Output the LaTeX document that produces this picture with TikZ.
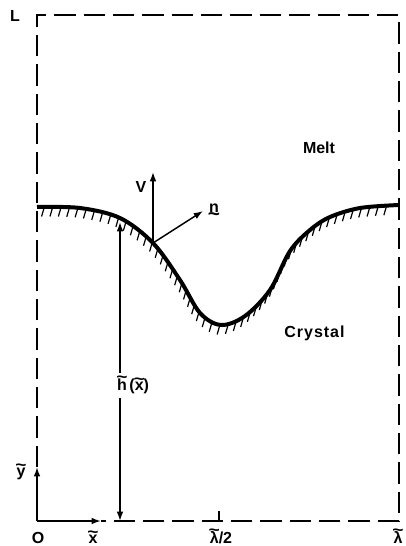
\documentclass[tikz,border=0pt]{standalone}
\usepackage{fontspec}
\setmainfont{Liberation Sans}
\usetikzlibrary{arrows.meta,decorations.markings}
\newcommand{\tl}[2][0.36em]{\leavevmode\hbox{\ooalign{#2\cr\hidewidth\raisebox{#1}{\scalebox{1.2}[1]{\textasciitilde}}\hidewidth\cr}}}
\newcommand{\ul}[1]{\leavevmode\hbox{\ooalign{#1\cr\hidewidth\raisebox{-0.5em}{\scalebox{1.3}[1.2]{\textasciitilde}}\hidewidth\cr}}}
\tikzset{
  boxline/.style={line width=1.3pt,dash pattern=on 16pt off 6pt},
  axisline/.style={line width=1.3pt,-{Latex[length=7pt,width=5pt]}},
  vecline/.style={line width=1.1pt,-{Latex[length=7pt,width=5pt]}},
  lbl/.style={font=\fontsize{12}{14}\selectfont\bfseries,inner sep=0pt},
  interface/.style={line width=3pt,line join=round,
    postaction={decorate,decoration={markings,
      mark=between positions 0.015 and 0.99 step 6.3pt with {
        \pgftransformresetnontranslations
        \draw[line width=0.9pt] (0,-1pt) -- (-1.8pt,-7.2pt);}}}},
}
\begin{document}
\begin{tikzpicture}[x=0.75pt,y=-0.75pt]
\useasboundingbox (0,0) rectangle (406,546);
\coordinate (O) at (37,521);
\coordinate (TL) at (37,15);
\coordinate (TR) at (399,15);
\coordinate (BR) at (399,521);
\coordinate (ytip) at (37,467);
\coordinate (xtip) at (101,521);
\coordinate (P) at (153,243);
\coordinate (Vtip) at (153,172);
\coordinate (ntip) at (203,211);
\coordinate (hbot) at (120,521);
\coordinate (htop) at (120,222);
\coordinate (tick) at (219,511);
\coordinate (tickb) at (219,521);
% dashed box
\draw[boxline] (ytip) -- (TL) -- (TR) -- (BR) -- (xtip);
% axes
\draw[axisline] (O) -- (ytip);
\draw[axisline] (O) -- (xtip);
\draw[line width=1.3pt] (tickb) -- (tick);
% interface
\draw[interface] plot[smooth,tension=0.55] coordinates {(37,207) (80,208) (120,218) (153,243) (180,280) (200,313) (221,325) (245,316) (270,290) (290,251) (310,230) (330,217) (360,208) (399,205)};
% vectors
\draw[vecline] (P) -- (Vtip);
\draw[vecline] (P) -- (ntip);
% h arrow
\node[lbl] (hlab) at (133,386) {\tl[0.5em]{h}\,(\tl{x})};
\draw[vecline] (120,373) -- (htop);
\draw[vecline] (120,398) -- (hbot);
% labels
\node[lbl] (L) at (15,16) {L};
\node[lbl] (melt) at (319,148) {Melt};
\node[lbl,anchor=base] (cryst) at (314.5,337) {\addfontfeature{LetterSpace=6}Crystal};
\node[lbl] (V) at (141,187) {V};
\node[lbl,anchor=base] (n) at (214,212) {\ul{n}};
\node[lbl,anchor=base] (ylab) at (21,476) {\tl{y}};
\node[lbl,anchor=base] (Olab) at (38,543) {O};
\node[lbl,anchor=base] (xlab) at (93,543) {\tl{x}};
\node[lbl,anchor=base] (l2) at (221,543) {\tl[0.5em]{λ}/2};
\node[lbl,anchor=base] (l1) at (398,543) {\tl[0.5em]{λ}};
\end{tikzpicture}
\end{document}
